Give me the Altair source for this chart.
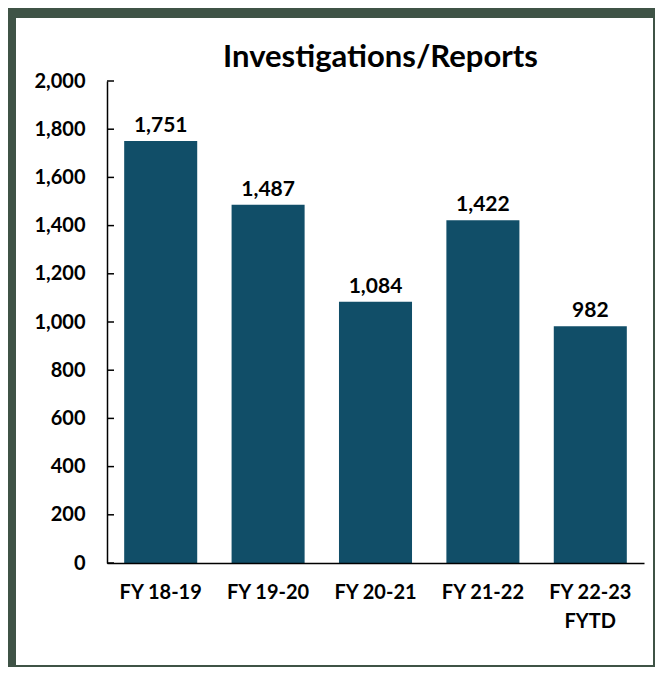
import altair as alt
import pandas as pd

categories = ["FY 18-19", "FY 19-20", "FY 20-21", "FY 21-22", "FY 22-23\nFYTD"]
values = [1751, 1487, 1084, 1422, 982]
tick_vals = [0, 200, 400, 600, 800, 1000, 1200, 1400, 1600, 1800, 2000]

df = pd.DataFrame({"cat": categories, "val": values})
ticks_df = pd.DataFrame({"t": tick_vals})

FONT = "Lato"
BAR = "#114e68"
FRAME = "#3f5346"

x_enc = alt.X("cat:N", sort=categories, title=None,
              scale=alt.Scale(paddingInner=0.32, paddingOuter=0.16),
              axis=alt.Axis(labelAngle=0, ticks=False, domainColor="black", domainWidth=1.5,
                            labelFont=FONT, labelFontSize=20, labelFontWeight="bold",
                            labelColor="black", labelPadding=19, labelLineHeight=29,
                            labelExpr="split(datum.value, '\\n')", zindex=1))
y_enc = alt.Y("val:Q", title=None,
              scale=alt.Scale(domain=[0, 2000], nice=False),
              axis=alt.Axis(values=tick_vals, ticks=False, grid=False, format=",d",
                            domainColor="black", domainWidth=1.5,
                            labelFont=FONT, labelFontSize=20, labelFontWeight="bold",
                            labelColor="black", labelPadding=22, zindex=1))

frame = alt.Chart(pd.DataFrame({"a": [0]})).mark_rect(fill="white").encode(
    x=alt.value(-91), x2=alt.value(546), y=alt.value(-63), y2=alt.value(584))

bars = alt.Chart(df).mark_bar(color=BAR).encode(x=x_enc, y=y_enc)

labels = alt.Chart(df).mark_text(baseline="bottom", dy=-5, font=FONT, fontSize=21,
                                 fontWeight="bold", color="black").encode(
    x=alt.X("cat:N", sort=categories),
    y=alt.Y("val:Q"),
    text=alt.Text("val:Q", format=",d"))

ticks = alt.Chart(ticks_df).mark_rule(color="black", strokeWidth=1.5).encode(
    y=alt.Y("t:Q"), x=alt.value(0), x2=alt.value(7))

chart = alt.layer(frame, bars, labels, ticks).properties(
    width=537, height=482,
    autosize=alt.AutoSizeParams(type="none"),
    padding={"left": 99, "top": 73, "right": 11, "bottom": 104},
    background=FRAME,
    title=alt.TitleParams("Investigations/Reports", font=FONT, fontSize=31,
                          fontWeight="bold", color="black", anchor="middle", offset=8,
                          dy=64, dx=5),
).configure_view(stroke=None)

chart.save("out.html", embed_options={"renderer": "svg", "actions": False})
